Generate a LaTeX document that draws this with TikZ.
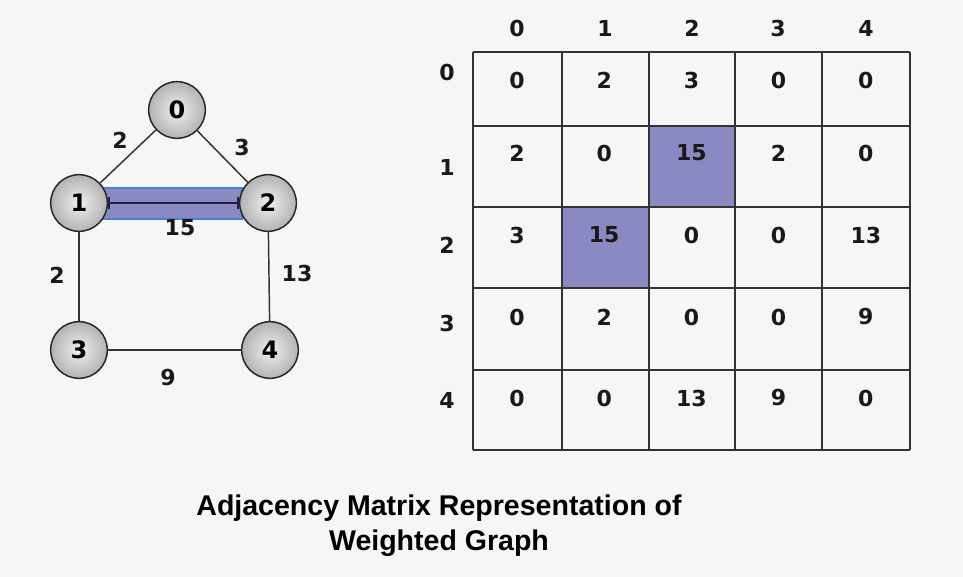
\documentclass[tikz,border=0pt]{standalone}
\usepackage{fontspec}
\setmainfont{Liberation Sans}
\newfontfamily\numfont{DejaVu Sans}
\usetikzlibrary{arrows.meta}
\definecolor{bgc}{HTML}{F6F6F6}
\definecolor{hlfill}{HTML}{8B89C2}
\definecolor{hlline}{HTML}{4F7FD0}
\definecolor{navy}{HTML}{20204A}
\definecolor{gridc}{HTML}{333333}
\begin{document}
\begin{tikzpicture}[x=0.75pt,y=-0.75pt,
  vert/.style={circle,minimum size=42.5pt,inner sep=0pt,draw=gray!30!black,line width=1.1pt,
    shading=radial,inner color=gray!12,outer color=gray!60,
    font=\numfont\bfseries\fontsize{18}{20}\selectfont},
  num/.style={inner sep=0pt,font=\numfont\bfseries\fontsize{16.5}{18}\selectfont,text=black!90},
  edge/.style={draw=gridc,line width=1.1pt},
  gline/.style={draw=gridc,line width=1.6pt},
  hl/.style={fill=hlfill,draw=hlline,line width=0.9pt}]
\useasboundingbox[fill=bgc] (0,0) rectangle (963,577);
% ---- graph ----
\coordinate (hA) at (103,188);
\coordinate (hB) at (242,219);
\fill[hl] (hA) rectangle (hB);
\node[vert] (n0) at (177,110) {0};
\node[vert] (n1) at (79,203) {1};
\node[vert] (n2) at (268,203) {2};
\node[vert] (n3) at (79,350) {3};
\node[vert] (n4) at (270,350) {4};
\draw[edge] (n0) -- (n1);
\draw[edge] (n0) -- (n2);
\draw[draw=navy,line width=1.1pt,{Bar[width=9pt]}-{Bar[width=9pt]}] (n1) -- (n2);
\draw[edge] (n1) -- (n3);
\draw[edge] (n2) -- (n4);
\draw[edge] (n3) -- (n4);
\node[num] (w01) at (120,140) {2};
\node[num] (w02) at (242,147) {3};
\node[num] (w12) at (180,228) {15};
\node[num] (w13) at (57,275) {2};
\node[num] (w24) at (297,273) {13};
\node[num] (w34) at (168,378) {9};
% ---- matrix ----
\fill[hl] (649,126) rectangle (735,207);
\fill[hl] (562,207) rectangle (649,288);
\foreach \yy in {52,126,207,288,370,450}
  \draw[gline] (473,\yy) -- (910,\yy);
\foreach \xx in {473,562,649,735,822,910}
  \draw[gline] (\xx,52) -- (\xx,450);
\foreach \c/\xx in {0/517,1/605,2/692,3/778,4/866}
  \node[num] (ch\c) at (\xx,28) {\c};
\foreach \r/\yy in {0/72,1/167,2/245,3/323,4/400}
  \node[num] (rh\r) at (447,\yy) {\r};
\foreach \r/\yy/\vals in {0/80/{0,2,3,0,0},1/153/{2,0,15,2,0},2/235/{3,15,0,0,13},3/317/{0,2,0,0,9},4/398/{0,0,13,9,0}}{
  \foreach \v [count=\c from 0] in \vals {
    \pgfmathsetmacro{\xx}{517+87.2*\c}
    \node[num] (m\r\c) at (\xx,\yy) {\v};
  }
}
% ---- title ----
\node[font=\bfseries\fontsize{21.4}{26}\selectfont,align=center,inner sep=0pt] (title) at (439,526)
  {Adjacency Matrix Representation of\\Weighted Graph};
\end{tikzpicture}
\end{document}
